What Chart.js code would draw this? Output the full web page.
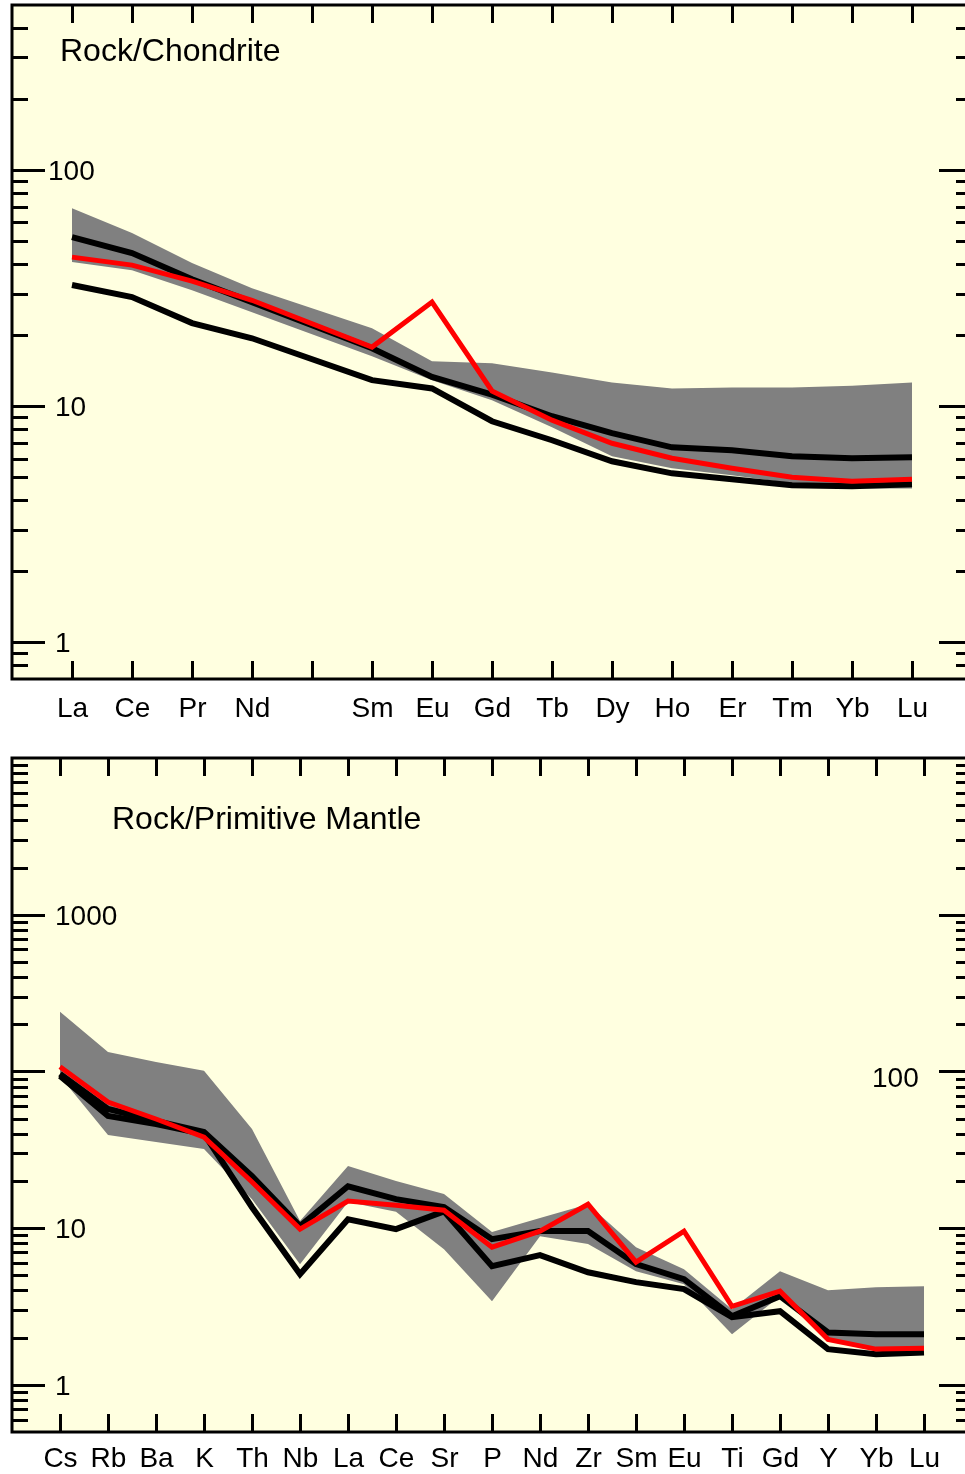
<!DOCTYPE html>
<html>
<head>
<meta charset="utf-8">
<title>REE and multi-element spider diagrams</title>
<script src="https://cdn.jsdelivr.net/npm/chart.js@4.4.1/dist/chart.umd.min.js"></script>
<style>
  html, body { margin: 0; padding: 0; background: #ffffff; width: 965px; height: 1474px; overflow: hidden; }
  .panel { position: absolute; left: 0; }
  canvas { display: block; }
</style>
</head>
<body>
<div class="panel" style="top:0px"><canvas id="ree" width="975" height="740"></canvas></div>
<div class="panel" style="top:740px"><canvas id="spider" width="975" height="734"></canvas></div>
<script>
// ---- Chondrite-normalised REE pattern ----
const reeElements   = ['La','Ce','Pr','Nd','Pm','Sm','Eu','Gd','Tb','Dy','Ho','Er','Tm','Yb','Lu'];
const reeTickLabels = ['La','Ce','Pr','Nd','','Sm','Eu','Gd','Tb','Dy','Ho','Er','Tm','Yb','Lu'];
const reeBandUpper  = [69.0, 54.1, 40.4, 31.6, null, 21.4, 15.5, 15.2, 13.9, 12.6, 11.9, 12.0, 12.0, 12.2, 12.6];
const reeBandLower  = [40.8, 37.7, 31.0, 25.0, null, 16.3, 12.9, 10.6, 8.15, 6.14, 5.46, 5.10, 4.72, 4.49, 4.49];
const reeHigh       = [52.0, 44.5, 34.5, 27.6, null, 17.6, 13.3, 11.2, 9.07, 7.69, 6.70, 6.51, 6.14, 6.02, 6.08];
const reeLow        = [32.6, 29.0, 22.5, 19.4, null, 12.9, 11.9, 8.64, 7.18, 5.85, 5.20, 4.91, 4.63, 4.58, 4.67];
const reeRed        = [42.8, 39.6, 33.9, 28.1, null, 17.8, 27.6, 11.6, 8.73, 6.97, 6.02, 5.46, 5.00, 4.81, 4.91];
const reeYLabels    = ['1', '10', '100'];

// ---- Primitive-mantle-normalised multi-element pattern ----
const pmElements   = ['Cs','Rb','Ba','K','Th','Nb','La','Ce','Sr','P','Nd','Zr','Sm','Eu','Ti','Gd','Y','Yb','Lu'];
const pmBandUpper  = [240, 133, 115, 101, 42.9, 11.1, 24.9, 20.0, 16.5, 9.43, 11.6, 14.2, 7.56, 5.47, 3.04, 5.31, 4.02, 4.20, 4.26];
const pmBandLower  = [93.0, 39.3, 35.4, 32.0, 15.3, 5.89, 14.7, 12.7, 7.34, 3.42, 8.89, 7.91, 5.31, 4.39, 2.10, 3.68, 1.95, 1.64, 1.69];
const pmHigh       = [96.4, 57.6, 48.3, 41.1, 21.5, 10.3, 18.5, 15.3, 13.6, 8.50, 9.57, 9.57, 5.89, 4.72, 2.74, 3.68, 2.16, 2.10, 2.10];
const pmLow        = [93.6, 52.0, 46.2, 39.9, 13.6, 5.08, 11.4, 9.85, 12.8, 5.72, 6.72, 5.23, 4.52, 4.08, 2.70, 2.95, 1.69, 1.57, 1.61];
const pmRed        = [107, 63.8, 49.7, 38.1, 19.7, 9.85, 14.9, 14.0, 13.0, 7.56, 9.57, 14.2, 6.06, 9.57, 3.17, 3.96, 1.95, 1.69, 1.71];
const pmYLabelsLeft  = ['1', '10', '1000'];
const pmYLabelsRight = ['100'];

const FONT = "'Liberation Sans', Arial, Helvetica, sans-serif";
const CREAM = '#FFFFE0';
const GREY = '#808080';

function points(arr) {
  return arr.map((v, i) => ({ x: i, y: v })).filter(p => p.y !== null);
}

// Frame, inward ticks and labels, all placed through the chart's scales
const framePlugin = {
  id: 'frame',
  beforeDraw(chart) {
    const { ctx, chartArea: a } = chart;
    ctx.save();
    ctx.fillStyle = '#ffffff';
    ctx.fillRect(0, 0, chart.width, chart.height);
    ctx.fillStyle = CREAM;
    ctx.fillRect(a.left, a.top, a.right - a.left, a.bottom - a.top);
    ctx.restore();
  },
  afterDatasetsDraw(chart, args, o) {
    const { ctx, chartArea: a } = chart;
    const xs = chart.scales.x, ys = chart.scales.y;
    ctx.save();
    ctx.strokeStyle = '#000';
    ctx.fillStyle = '#000';
    ctx.lineCap = 'butt';

    // x ticks on bottom and top edges, labels below
    ctx.lineWidth = 3;
    ctx.font = '28px ' + FONT;
    ctx.textAlign = 'center';
    ctx.textBaseline = 'alphabetic';
    o.xLabels.forEach((lab, i) => {
      const px = Math.round(xs.getPixelForValue(i)) + 0.5;
      ctx.beginPath();
      ctx.moveTo(px, a.bottom); ctx.lineTo(px, a.bottom - 18);
      ctx.moveTo(px, a.top); ctx.lineTo(px, a.top + 18);
      ctx.stroke();
      if (lab) ctx.fillText(lab, px, a.bottom + o.xLabelOffset);
    });

    // logarithmic y ticks on left and right edges
    const eMin = Math.floor(Math.log10(ys.min));
    const eMax = Math.ceil(Math.log10(ys.max));
    for (let e = eMin; e <= eMax; e++) {
      for (let m = 1; m <= 9; m++) {
        const v = m * Math.pow(10, e);
        if (v < ys.min * 1.0001 || v > ys.max * 0.9999) continue;
        const py = Math.round(ys.getPixelForValue(v)) + 0.5;
        const len = m === 1 ? 33 : 16;
        ctx.lineWidth = 3;
        ctx.beginPath();
        ctx.moveTo(a.left, py); ctx.lineTo(a.left + len, py);
        ctx.moveTo(a.right, py); ctx.lineTo(a.right - len, py);
        ctx.stroke();
      }
    }

    // y labels
    ctx.font = '28px ' + FONT;
    ctx.textAlign = 'left';
    o.yLabelsLeft.forEach(t => {
      const py = ys.getPixelForValue(Number(t));
      ctx.fillText(t, a.left + o.yLabelX(t), py + 10);
    });
    o.yLabelsRight.forEach(t => {
      const py = ys.getPixelForValue(Number(t));
      ctx.fillText(t, o.rightLabelX, py + 16);
    });

    // border
    ctx.lineWidth = 3;
    ctx.strokeRect(a.left, a.top, a.right - a.left, a.bottom - a.top);

    // panel title
    ctx.font = '32px ' + FONT;
    ctx.textAlign = 'left';
    ctx.fillText(o.title, o.titleX, o.titleY);
    ctx.restore();
  }
};

function makeChart(id, cfg) {
  const line = (data, color, width, order) => ({
    data: points(data), borderColor: color, borderWidth: width, fill: false,
    pointRadius: 0, tension: 0, order: order,
    borderJoinStyle: 'miter', borderCapStyle: 'butt'
  });
  return new Chart(document.getElementById(id), {
    type: 'line',
    data: {
      datasets: [
        { data: points(cfg.bandUpper), borderWidth: 0, pointRadius: 0, tension: 0,
          fill: '+1', backgroundColor: GREY, borderColor: GREY, order: 3 },
        { data: points(cfg.bandLower), borderWidth: 0, pointRadius: 0, tension: 0,
          fill: false, borderColor: GREY, order: 3 },
        line(cfg.low, '#000000', 6, 2),
        line(cfg.high, '#000000', 6, 1),
        line(cfg.red, '#FF0000', 5, 0)
      ]
    },
    options: {
      responsive: false,
      animation: false,
      events: [],
      layout: { padding: cfg.padding },
      scales: {
        x: { type: 'linear', min: -1, max: cfg.xLabels.length, display: false },
        y: { type: 'logarithmic', min: cfg.yMin, max: cfg.yMax, display: false }
      },
      plugins: {
        legend: { display: false },
        tooltip: { enabled: false },
        frame: {
          xLabels: cfg.xLabels,
          xLabelOffset: cfg.xLabelOffset,
          yLabelsLeft: cfg.yLabelsLeft,
          yLabelsRight: cfg.yLabelsRight,
          yLabelX: cfg.yLabelX,
          rightLabelX: cfg.rightLabelX,
          title: cfg.title, titleX: cfg.titleX, titleY: cfg.titleY
        }
      }
    },
    plugins: [framePlugin]
  });
}

makeChart('ree', {
  bandUpper: reeBandUpper, bandLower: reeBandLower,
  high: reeHigh, low: reeLow, red: reeRed,
  xLabels: reeTickLabels, xLabelOffset: 38,
  yMin: 0.7, yMax: 500,
  yLabelsLeft: reeYLabels, yLabelsRight: [],
  yLabelX: t => (t === '100' ? 36 : 43), rightLabelX: 0,
  padding: { left: 12, top: 5, right: 3, bottom: 61 },
  title: 'Rock/Chondrite', titleX: 60, titleY: 61
});

makeChart('spider', {
  bandUpper: pmBandUpper, bandLower: pmBandLower,
  high: pmHigh, low: pmLow, red: pmRed,
  xLabels: pmElements, xLabelOffset: 35,
  yMin: 0.5, yMax: 10000,
  yLabelsLeft: pmYLabelsLeft, yLabelsRight: pmYLabelsRight,
  yLabelX: t => 43, rightLabelX: 872,
  padding: { left: 12, top: 18, right: 3, bottom: 42 },
  title: 'Rock/Primitive Mantle', titleX: 112, titleY: 89
});
</script>
</body>
</html>
